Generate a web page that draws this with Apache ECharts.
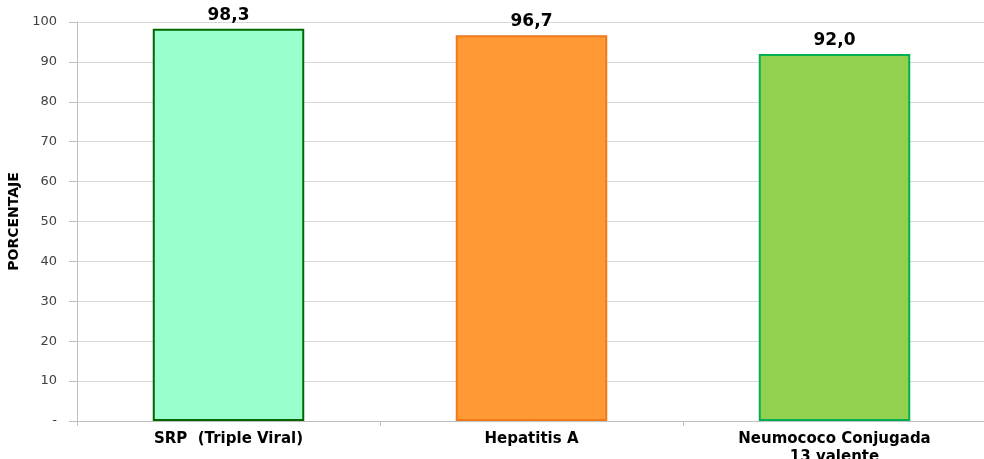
<!DOCTYPE html>
<html><head><meta charset="utf-8">
<script src="https://cdn.jsdelivr.net/npm/echarts@6/dist/echarts.min.js"></script>
<style>html,body{margin:0;padding:0;background:#fff}#c{width:984px;height:459px}</style>
</head><body><div id="c"></div>
<script>
const categories = ['SRP  (Triple Viral)', 'Hepatitis A', 'Neumococo Conjugada\n13 valente'];
const values = [98.3, 96.7, 92.0];
const fills = ['#99FFCC', '#FF9933', '#92D050'];
const borders = ['#006600', '#F07A1A', '#00B050'];
const yTicks = [0, 10, 20, 30, 40, 50, 60, 70, 80, 90, 100];
const FONT = '"DejaVu Sans", sans-serif';

const chart = echarts.init(document.getElementById('c'), null, {renderer: 'canvas'});
chart.setOption({
  animation: false,
  textStyle: {fontFamily: FONT},
  grid: {left: 77, right: -2, top: 22, bottom: 38, containLabel: false, outerBoundsMode: 'none'},
  xAxis: {
    type: 'category',
    data: categories,
    axisLine: {lineStyle: {color: '#BFBFBF', width: 1}},
    axisTick: {show: true, alignWithLabel: false, length: 5, lineStyle: {color: '#BFBFBF'}},
    axisLabel: {color: '#000', fontFamily: FONT, fontWeight: 'bold', fontSize: 15, margin: 9, lineHeight: 18, interval: 0}
  },
  yAxis: {
    type: 'value',
    min: 0, max: 100, interval: 10,
    name: 'PORCENTAJE',
    nameLocation: 'middle',
    nameRotate: 90,
    nameGap: 56,
    nameTextStyle: {color: '#000', fontFamily: FONT, fontWeight: 'bold', fontSize: 14},
    axisLine: {show: true, lineStyle: {color: '#BFBFBF'}},
    axisTick: {show: true, length: 8, lineStyle: {color: '#BFBFBF'}},
    splitLine: {lineStyle: {color: '#D9D9D9'}},
    axisLabel: {color: '#404040', fontFamily: FONT, fontSize: 13, margin: 20,
      formatter: v => yTicks.includes(v) ? (v === 0 ? '-' : String(v)) : ''}
  },
  series: [{
    type: 'bar',
    barWidth: '50%',
    data: values.map((v, i) => ({value: v, itemStyle: {color: fills[i], borderColor: borders[i], borderWidth: 2}})),
    label: {show: true, position: 'top', distance: 5, color: '#000', fontFamily: FONT, fontWeight: 'bold', fontSize: 17,
      formatter: p => p.value.toFixed(1).replace('.', ',')}
  }]
});
</script></body></html>
